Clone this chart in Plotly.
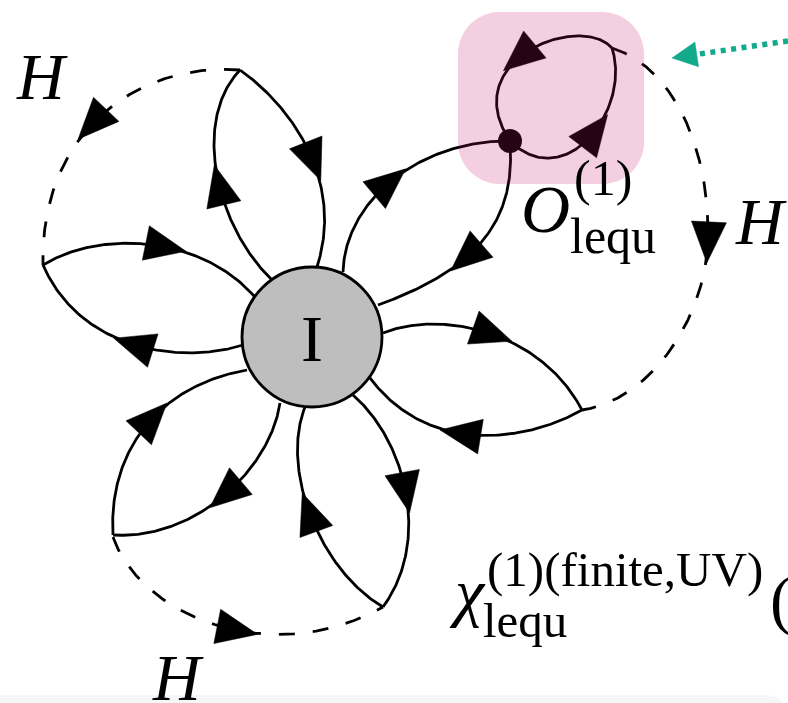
import numpy as np
import plotly.graph_objects as go

W, H = 788, 703

# ---- geometry (canvas units, y grows downward) ----
blob_center = (312, 337)
blob_radius = 70
vertex_pt = (510, 141)
vertex_radius = 12

# solid propagators, cubic Bezier control points
solid_curves = {
    "p1_out": [(272, 280), (215, 225), (192, 120), (240, 70)],
    "p1_in":  [(240, 70), (290, 105), (345, 180), (317, 267)],
    "p2_up":  [(43, 265), (100, 230), (200, 235), (254, 296)],
    "p2_low": [(243, 345), (180, 365), (80, 350), (43, 265)],
    "p3_out": [(343, 272), (345, 200), (420, 140), (510, 141)],
    "p3_in":  [(510, 141), (515, 210), (490, 265), (378, 305)],
    "p4_up":  [(383, 333), (440, 310), (540, 330), (582, 410)],
    "p4_low": [(582, 410), (530, 440), (430, 458), (370, 378)],
    "p5_r":   [(353, 395), (405, 440), (432, 540), (383, 607)],
    "p5_l":   [(383, 607), (320, 570), (280, 470), (305, 407)],
    "p6_in":  [(280, 403), (270, 470), (195, 540), (113, 535)],
    "p6_out": [(113, 535), (108, 450), (160, 385), (247, 370)],
    "loop_r": [(510, 141), (565, 195), (632, 110), (612, 48)],
    "loop_l": [(612, 48), (580, 12), (456, 60), (510, 141)],
}

# dashed Higgs lines (each a chain of cubic segments)
dashed_curves = {
    "h_top":    [[(240, 70), (140, 62), (40, 130), (43, 265)]],
    "h_bottom": [[(113, 537), (140, 615), (270, 670), (383, 607)]],
    "h_right":  [[(612, 48), (680, 70), (710, 160), (708, 240)],
                 [(708, 240), (705, 320), (650, 400), (582, 410)]],
}

# arrowheads: (curve, segment index, curve parameter)
arrow_marks = [
    ("p1_out", 0, 0.45), ("p1_in", 0, 0.56),
    ("p2_up", 0, 0.57), ("p2_low", 0, 0.50),
    ("p3_out", 0, 0.48), ("p3_in", 0, 0.65),
    ("p4_up", 0, 0.52), ("p4_low", 0, 0.58),
    ("p5_r", 0, 0.50), ("p5_l", 0, 0.52),
    ("p6_in", 0, 0.49), ("p6_out", 0, 0.55),
    ("loop_r", 0, 0.55), ("loop_l", 0, 0.56),
    ("h_top", 0, 0.55), ("h_bottom", 0, 0.57), ("h_right", 1, 0.01),
]
arrow_len, arrow_half = 41, 17.5

teal_start = (788, 41)
teal_tip = (672, 58)

highlight_box = (458, 12, 644, 184)
highlight_r = 42

LINE_W = 2.8
SERIF = "Liberation Serif, DejaVu Serif, serif"


def bez(P, n=140):
    P = np.asarray(P, float)
    t = np.linspace(0, 1, n)[:, None]
    return ((1 - t) ** 3) * P[0] + 3 * ((1 - t) ** 2) * t * P[1] + 3 * (1 - t) * t ** 2 * P[2] + t ** 3 * P[3]


def bez_pt(P, t):
    P = np.asarray(P, float)
    return ((1 - t) ** 3) * P[0] + 3 * ((1 - t) ** 2) * t * P[1] + 3 * (1 - t) * t ** 2 * P[2] + t ** 3 * P[3]


def bez_tan(P, t):
    P = np.asarray(P, float)
    d = 3 * (1 - t) ** 2 * (P[1] - P[0]) + 6 * (1 - t) * t * (P[2] - P[1]) + 3 * t ** 2 * (P[3] - P[2])
    return d / np.linalg.norm(d)


def triangle(center, d, length, half):
    c = np.asarray(center, float)
    n = np.array([-d[1], d[0]])
    tip = c + d * length / 2
    b1 = c - d * length / 2 + n * half
    b2 = c - d * length / 2 - n * half
    pts = np.array([tip, b1, b2, tip])
    return pts[:, 0], pts[:, 1]


def rounded_rect(x0, y0, x1, y1, r):
    k = 0.5523 * r
    return (f"M{x0 + r},{y0} L{x1 - r},{y0} C{x1 - r + k},{y0} {x1},{y0 + r - k} {x1},{y0 + r} "
            f"L{x1},{y1 - r} C{x1},{y1 - r + k} {x1 - r + k},{y1} {x1 - r},{y1} "
            f"L{x0 + r},{y1} C{x0 + r - k},{y1} {x0},{y1 - r + k} {x0},{y1 - r} "
            f"L{x0},{y0 + r} C{x0},{y0 + r - k} {x0 + r - k},{y0} {x0 + r},{y0} Z")


fig = go.Figure()

# solid lines
for key, P in solid_curves.items():
    pts = bez(P)
    fig.add_trace(go.Scatter(x=pts[:, 0], y=pts[:, 1], mode="lines",
                             line=dict(color="black", width=LINE_W), hoverinfo="skip"))

# dashed lines
for key, segs in dashed_curves.items():
    pts = np.vstack([bez(s) for s in segs])
    fig.add_trace(go.Scatter(x=pts[:, 0], y=pts[:, 1], mode="lines",
                             line=dict(color="black", width=LINE_W, dash="16px,18px"),
                             hoverinfo="skip"))

# arrowheads
all_curves = {k: [v] for k, v in solid_curves.items()}
all_curves.update(dashed_curves)
for key, seg, t in arrow_marks:
    P = all_curves[key][seg]
    tx, ty = triangle(bez_pt(P, t), bez_tan(P, t), arrow_len, arrow_half)
    fig.add_trace(go.Scatter(x=tx, y=ty, mode="lines", fill="toself", fillcolor="black",
                             line=dict(color="black", width=0.5), hoverinfo="skip"))

# operator insertion vertex
fig.add_trace(go.Scatter(x=[vertex_pt[0]], y=[vertex_pt[1]], mode="markers",
                         marker=dict(size=2 * vertex_radius, color="black"), hoverinfo="skip"))

# teal pointer
tdir = np.array(teal_tip, float) - np.array(teal_start, float)
tdir /= np.linalg.norm(tdir)
t_base = np.array(teal_tip) - tdir * 25
fig.add_trace(go.Scatter(x=[teal_start[0], t_base[0]], y=[teal_start[1], t_base[1]], mode="lines",
                         line=dict(color="#13a98b", width=5.5, dash="5px,5.5px"), hoverinfo="skip"))
tx, ty = triangle(np.array(teal_tip) - tdir * 12.5, tdir, 25, 12.5)
fig.add_trace(go.Scatter(x=tx, y=ty, mode="lines", fill="toself", fillcolor="#13a98b",
                         line=dict(color="#13a98b", width=0.5), hoverinfo="skip"))

shapes = [
    # page footer strip
    dict(type="path", path=rounded_rect(-30, 695, 788, 740, 22), fillcolor="#f6f6f6",
         line=dict(width=0), layer="below"),
    # central blob
    dict(type="circle", x0=blob_center[0] - blob_radius, x1=blob_center[0] + blob_radius,
         y0=blob_center[1] - blob_radius, y1=blob_center[1] + blob_radius,
         fillcolor="#bebebe", line=dict(color="black", width=LINE_W), layer="above"),
    # highlight around the insertion
    dict(type="path", path=rounded_rect(*highlight_box, highlight_r),
         fillcolor="rgba(200,10,105,0.2)", line=dict(width=0), layer="above"),
]

annotations = []


def label(text, x, y, size, xanchor="center", italic=False):
    if italic:
        text = f"<i>{text}</i>"
    annotations.append(dict(text=text, x=x, y=y, xref="x", yref="y", showarrow=False,
                            xanchor=xanchor, yanchor="middle",
                            font=dict(family=SERIF, size=size, color="black")))


label("H", 42, 76, 66, italic=True)
label("H", 761, 221, 66, italic=True)
label("H", 178, 677, 66, italic=True)
label("I", 312, 338, 66)
label("O", 545, 209, 68, italic=True)
label("(1)", 572, 178, 50, xanchor="left")
label("lequ", 568, 236, 50, xanchor="left")
label("χ", 467, 591, 66, italic=True)
label("(1)(finite,UV)", 485, 569, 49, xanchor="left")
label("lequ", 481, 620, 49, xanchor="left")
label("(", 768, 600, 66, xanchor="left")

fig.update_layout(
    width=W, height=H, autosize=False,
    margin=dict(l=0, r=0, t=0, b=0),
    paper_bgcolor="white", plot_bgcolor="white",
    showlegend=False,
    xaxis=dict(range=[0, W], visible=False, fixedrange=True),
    yaxis=dict(range=[H, 0], visible=False, fixedrange=True),
    shapes=shapes, annotations=annotations,
)

fig.write_html("out.html")
